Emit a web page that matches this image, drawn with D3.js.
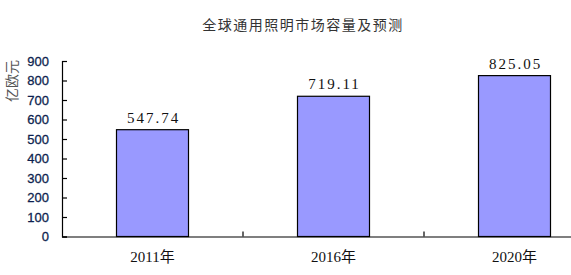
<!DOCTYPE html>
<html><head><meta charset="utf-8">
<script src="https://cdn.jsdelivr.net/npm/d3@7"></script>
<style>body{margin:0;background:#fff}svg{display:block}</style>
</head><body>
<script>
const categories = ["2011年", "2016年", "2020年"];
const values = [547.74, 719.11, 825.05];
const valueLabels = ["547.74", "719.11", "825.05"];
const yTicks = [0,100,200,300,400,500,600,700,800,900];
const title = "全球通用照明市场容量及预测";
const yTitle = "亿欧元";

const W = 571, H = 275;
const svg = d3.select("body").append("svg").attr("width", W).attr("height", H);

const y = d3.scaleLinear().domain([0, 900]).range([236.5, 61]);
const band = d3.scaleBand().domain(categories).range([62, 605]);

svg.append("text").attr("x", 303).attr("y", 30).attr("text-anchor", "middle")
  .attr("font-family", "'Noto Sans CJK SC'").attr("font-size", 14).attr("letter-spacing", 1.5).attr("fill", "#333")
  .text(title);

svg.append("text").attr("transform", "translate(17,81) rotate(-90)").attr("text-anchor", "middle")
  .attr("font-family", "'Noto Sans CJK SC'").attr("font-size", 14).attr("fill", "#555")
  .text(yTitle);

// bars
svg.selectAll("rect.bar").data(values).join("rect")
  .attr("x", (d,i) => band(categories[i]) + band.bandwidth()/2 - 36)
  .attr("width", 72)
  .attr("y", d => y(d)).attr("height", d => y(0) - y(d))
  .attr("fill", "#9999ff").attr("stroke", "#000").attr("stroke-width", 1.2);

svg.selectAll("text.val").data(values).join("text")
  .attr("x", (d,i) => band(categories[i]) + band.bandwidth()/2 + 1)
  .attr("y", d => y(d) - 7)
  .attr("text-anchor", "middle").attr("font-family", "'Liberation Serif', serif")
  .attr("font-size", 15).attr("letter-spacing", 2).attr("fill", "#111")
  .text((d,i) => valueLabels[i]);

// y axis
const ya = d3.axisLeft(y).tickValues(yTicks).tickSize(-5).tickPadding(13);
const gy = svg.append("g").attr("transform", "translate(62,0)").call(ya);
gy.select(".domain").attr("stroke", "#000").attr("stroke-width", 1.2);
gy.selectAll(".tick line").attr("stroke", "#000").attr("stroke-width", 1.2);
gy.selectAll(".tick text").attr("font-family", "'Liberation Sans', Arial").attr("font-size", 13)
  .attr("fill", "#0d1f4f").attr("stroke", "#0d1f4f").attr("stroke-width", 0.3);

// x axis
const xa = d3.axisBottom(band).tickSize(0).tickPadding(15);
const gx = svg.append("g").attr("transform", `translate(0,${y(0)})`).call(xa);
gx.select(".domain").attr("stroke", "#000").attr("stroke-width", 1.2);
gx.selectAll(".tick text").attr("font-family", "'Liberation Serif', 'Noto Sans CJK SC'").attr("font-size", 15).attr("fill", "#111");
// category separators
svg.selectAll("line.sep").data(categories.slice(1)).join("line")
  .attr("x1", d => band(d)).attr("x2", d => band(d))
  .attr("y1", y(0)).attr("y2", y(0) - 5)
  .attr("stroke", "#000").attr("stroke-width", 1.2);
</script>
</body></html>
